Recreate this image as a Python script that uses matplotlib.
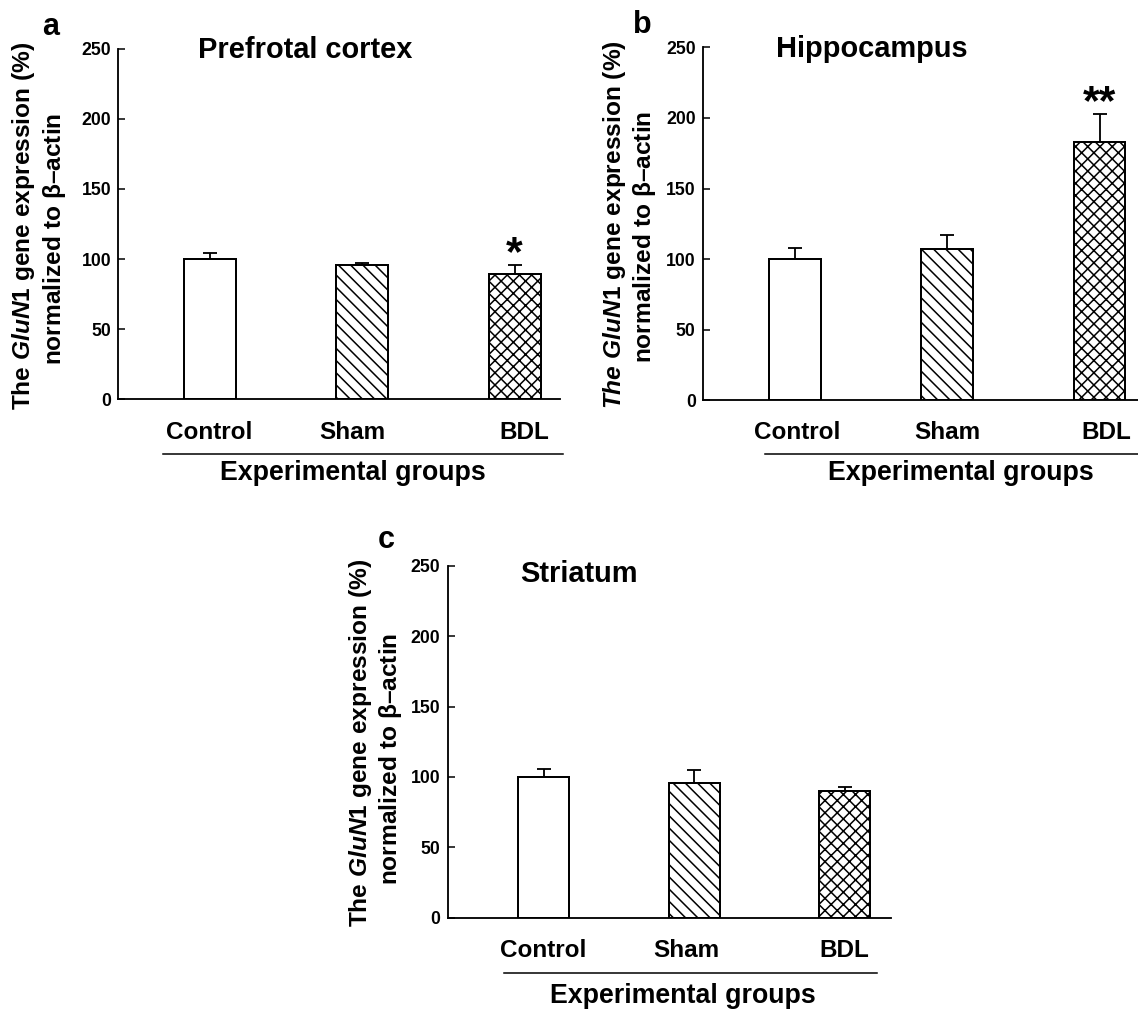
import numpy as np
import matplotlib
matplotlib.use("Agg")
import matplotlib.pyplot as plt
import matplotlib.transforms as mtransforms

plt.rcParams['font.family'] = ['Liberation Sans', 'DejaVu Sans']
plt.rcParams['font.weight'] = 'bold'
plt.rcParams['mathtext.fontset'] = 'custom'
plt.rcParams['mathtext.rm'] = 'Liberation Sans:bold'
plt.rcParams['mathtext.it'] = 'Liberation Sans:italic:bold'
plt.rcParams['mathtext.sf'] = 'Liberation Sans'
plt.rcParams['hatch.linewidth'] = 1.0

# data
groups = ['Control', 'Sham', 'BDL']
hatches = ['', '\\' * 3, 'xxx']

pfc_mean = [100, 95.8, 89.5]
pfc_err = [4.6, 1.6, 6.3]
pfc_sig = ['', '', '*']

hip_mean = [100, 107.1, 182.7]
hip_err = [8.0, 10.1, 19.9]
hip_sig = ['', '', '**']

str_mean = [100, 95.7, 90.0]
str_err = [5.4, 9.0, 2.6]
str_sig = ['', '', '']

W, H = 1138, 1013
DPI = 110
fig = plt.figure(figsize=(W / DPI, H / DPI), dpi=DPI)


def fx(px):
    return px / W


def fy(py):
    return 1 - py / H


ylab1 = r'The $\mathit{GluN1}$ gene expression (%)'
ylab1_b = r'$\mathit{The\ GluN1}$ gene expression (%)'
ylab2 = r'normalized to $\mathsf{\beta}$' + '\u2013actin'

panels = [
    dict(rect=[118.3, 399.3, 441.7, 350.6], xlim=(0.398, 3.298), mean=pfc_mean, err=pfc_err, sig=pfc_sig,
         title='Prefrotal cortex', tpos=(0.180, 0.973), letter='a', lpos=(41.7, 35),
         yl1=ylab1, yl1pos=(24, 226), yl2pos=(55, 239), ldx=[-1, -9.5, 9.5],
         uline=(0.102, 1.006, -0.156), gpos=(0.530, -0.2316)),
    dict(rect=[702.7, 400, 442.6, 352.5], xlim=(0.396, 3.30), mean=hip_mean, err=hip_err, sig=hip_sig,
         title='Hippocampus', tpos=(0.165, 0.973), letter='b', lpos=(633.4, 33),
         yl1=ylab1_b, yl1pos=(614, 225), yl2pos=(645, 236.7), ldx=[2, 0, 6.5],
         uline=(0.141, 1.02, -0.153), gpos=(0.584, -0.227)),
    dict(rect=[447.5, 917.7, 443, 352], xlim=(0.36, 3.305), mean=str_mean, err=str_err, sig=str_sig,
         title='Striatum', tpos=(0.165, 0.955), letter='c', lpos=(378, 548.3),
         yl1=ylab1, yl1pos=(360.5, 742.5), yl2pos=(391, 759), ldx=[-1, -8, 0],
         uline=(0.127, 0.969, -0.158), gpos=(0.531, -0.243)),
]

x = np.arange(1, 4)
for p in panels:
    l, b, w, h = p['rect']
    ax = fig.add_axes([fx(l), fy(b), w / W, h / H])
    bars = ax.bar(x, p['mean'], 0.34, color='white', edgecolor='black', linewidth=1.3, zorder=2)
    for bar, hh in zip(bars, hatches):
        bar.set_hatch(hh)
    ax.errorbar(x, p['mean'], yerr=[np.zeros(3), p['err']], fmt='none', ecolor='black',
                elinewidth=1.2, capsize=4.4, capthick=1.2, zorder=1)
    for xi, m, e, s in zip(x, p['mean'], p['err'], p['sig']):
        if s:
            ax.annotate(s, xy=(xi, m + e), xytext=(0, 0), textcoords='offset points',
                        ha='center', va='baseline', fontsize=28, fontweight='bold')
    ax.set_xlim(*p['xlim'])
    ax.set_ylim(0, 250)
    ax.set_yticks([0, 50, 100, 150, 200, 250])
    ax.set_xticks(x)
    ax.set_xticklabels(groups, fontsize=15.9, fontweight='bold')
    ax.tick_params(axis='x', length=0, pad=14)
    ax.tick_params(axis='y', direction='in', length=4.6, width=1.0, pad=4.6, labelsize=11.5)
    for t in ax.get_yticklabels():
        t.set_fontweight('bold')
    # small horizontal nudges of the group labels, as in the original
    for t, dx in zip(ax.get_xticklabels(), p['ldx']):
        t.set_transform(t.get_transform() + mtransforms.ScaledTranslation(dx / DPI, 0, fig.dpi_scale_trans))
    for sp in ['top', 'right']:
        ax.spines[sp].set_visible(False)
    for sp in ['left', 'bottom']:
        ax.spines[sp].set_linewidth(1.2)
    ax.text(p['tpos'][0], p['tpos'][1], p['title'], transform=ax.transAxes,
            ha='left', va='baseline', fontsize=19, fontweight='bold')
    x0, x1, yu = p['uline']
    ax.plot([x0, x1], [yu, yu], transform=ax.transAxes, color='black', lw=1.0, clip_on=False)
    ax.text(p['gpos'][0], p['gpos'][1], 'Experimental groups', transform=ax.transAxes,
            ha='center', va='baseline', fontsize=17.5, fontweight='bold')
    fig.text(fx(p['lpos'][0]), fy(p['lpos'][1]), p['letter'], ha='left', va='baseline',
             fontsize=20, fontweight='bold')
    fig.text(fx(p['yl1pos'][0]), fy(p['yl1pos'][1]), p['yl1'], rotation=90,
             ha='center', va='center', fontsize=16, fontweight='bold')
    fig.text(fx(p['yl2pos'][0]), fy(p['yl2pos'][1]), ylab2, rotation=90,
             ha='center', va='center', fontsize=16, fontweight='bold')

fig.savefig('out.png', dpi=DPI, facecolor='white')
